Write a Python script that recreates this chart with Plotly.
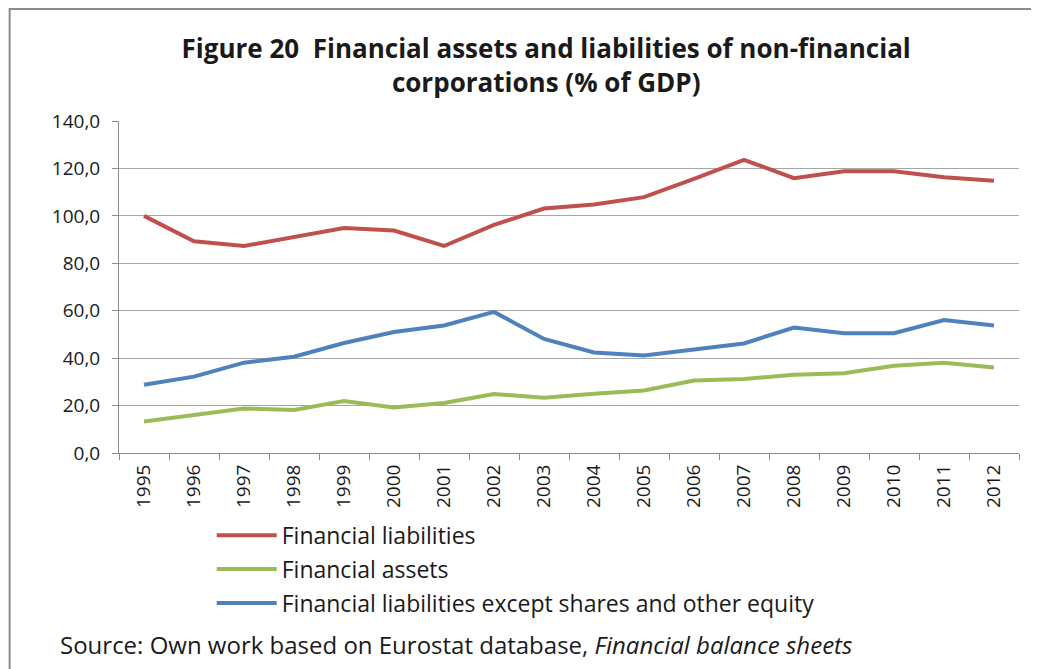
import plotly.graph_objects as go

years = [str(y) for y in range(1995, 2013)]
fin_liabilities = [100.0, 89.3, 87.3, 91.3, 94.9, 93.8, 87.3, 96.2, 103.1, 104.8,
                   107.9, 115.6, 123.6, 115.9, 118.8, 118.8, 116.3, 114.8]
fin_assets = [13.3, 15.9, 18.8, 18.1, 21.9, 19.2, 21.1, 24.9, 23.3, 25.0,
              26.4, 30.6, 31.2, 33.0, 33.6, 36.8, 38.1, 36.1]
fin_liab_ex_shares = [28.8, 32.2, 38.1, 40.6, 46.4, 51.0, 53.8, 59.5, 48.1, 42.4,
                      41.1, 43.6, 46.2, 52.9, 50.5, 50.5, 56.1, 53.8]
y_ticks = [0, 20, 40, 60, 80, 100, 120, 140]

FONT = "Open Sans"
TXT = "#1a1a1a"
fig = go.Figure()
fig.add_trace(go.Scatter(x=years, y=fin_liabilities, mode="lines", name="Financial liabilities",
                         legendgroup="a", line=dict(color="#C0504D", width=4)))
fig.add_trace(go.Scatter(x=years, y=fin_assets, mode="lines", name="Financial assets",
                         legendgroup="b", line=dict(color="#9BBB59", width=4)))
fig.add_trace(go.Scatter(x=years, y=fin_liab_ex_shares, mode="lines",
                         name="Financial liabilities except shares and other equity",
                         legendgroup="c", line=dict(color="#4F81BD", width=4)))

fig.update_layout(
    width=1031, height=661,
    margin=dict(l=111, r=20, t=113, b=216, autoexpand=False),
    paper_bgcolor="white", plot_bgcolor="white",
    separators=", ",
    font=dict(family=FONT, size=19, color=TXT),
    title=dict(text="<b>Figure 20  Financial assets and liabilities of non-financial<br>corporations (% of GDP)</b>",
               x=0.522, xanchor="center", y=0.924, yanchor="top",
               font=dict(family=FONT, size=26, color=TXT)),
    showlegend=True,
    legend=dict(orientation="v", xref="paper", yref="paper", x=0.103, xanchor="left",
                y=-0.183, yanchor="top", font=dict(family=FONT, size=23, color=TXT),
                bgcolor="rgba(0,0,0,0)", itemwidth=60, tracegroupgap=1),
    xaxis=dict(type="category", range=[-0.5, 17.5], tickangle=-90, tickson="boundaries",
               ticks="outside", ticklen=6, ticklabelstandoff=3,
               tickcolor="#8C8C8C", showline=True, linecolor="#8C8C8C", linewidth=1,
               showgrid=False, tickfont=dict(size=19, family=FONT, color=TXT)),
    yaxis=dict(range=[0, 140], tickvals=y_ticks, tickformat=".1f", ticks="outside", ticklen=6,
               ticklabelstandoff=8,
               tickcolor="#8C8C8C", showline=True, linecolor="#8C8C8C", linewidth=1,
               showgrid=True, gridcolor="#A6A6A6", gridwidth=1, zeroline=False,
               tickfont=dict(size=19, family=FONT, color=TXT)),
)

fig.add_annotation(text="Source: Own work based on Eurostat database, <i>Financial balance sheets</i>",
                   xref="paper", yref="paper", x=-0.068, y=-0.578, xanchor="left", yanchor="middle",
                   showarrow=False, font=dict(family=FONT, size=24, color=TXT))

fig.add_shape(type="rect", xref="paper", yref="paper", x0=-0.1215, x1=1.02, y0=-0.75, y1=1.337,
              line=dict(color="#8C8C8C", width=2), layer="below")

fig.write_html("out.html")
